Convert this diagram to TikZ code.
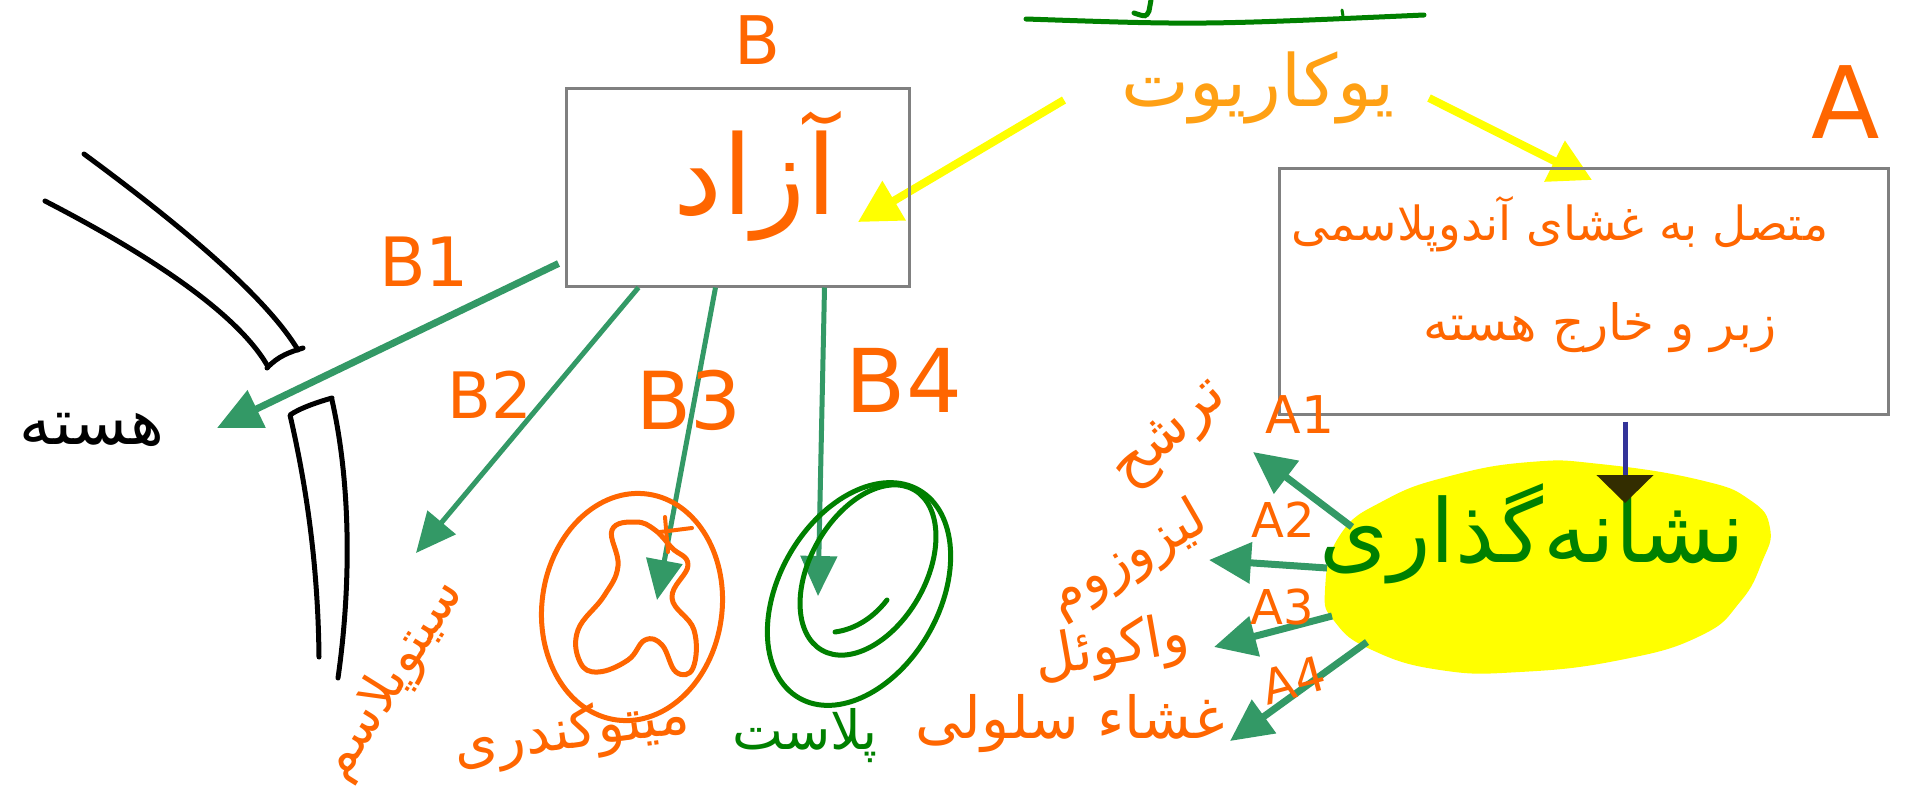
\documentclass[tikz,border=0pt]{standalone}
\usepackage{fontspec}
\setmainfont{DejaVu Sans}
\newfontfamily\arabicfont[Script=Arabic]{DejaVu Sans}
\TeXXeTstate=1
\usetikzlibrary{arrows.meta,shapes.geometric}
\definecolor{orng}{RGB}{255,102,0}
\definecolor{lorng}{RGB}{255,160,20}
\definecolor{agreen}{RGB}{51,153,102}
\definecolor{dgreen}{RGB}{0,128,0}
\definecolor{boxgray}{RGB}{128,128,128}
\definecolor{hlyellow}{RGB}{255,255,0}
\definecolor{bluel}{RGB}{51,51,153}
\definecolor{headdark}{RGB}{51,45,0}
\newcommand\myfs[1]{\fontsize{#1}{#1}\selectfont}
\begin{document}
\begin{tikzpicture}[x=1pt,y=-1pt,
  box/.style={draw=boxgray, line width=3pt, inner sep=0pt},
  lbl/.style={text=orng, inner sep=0pt},
  ar/.style={text=orng, inner sep=0pt},
  gar/.style={draw=agreen, line width=5pt, -{Triangle[length=40pt,width=36pt]}},
  garA/.style={draw=agreen, line width=7pt, -{Triangle[length=42pt,width=40pt]}},
  yar/.style={draw=hlyellow, line width=8pt, -{Triangle[length=42pt,width=44pt]}},
  env/.style={draw=black, line width=5pt, line cap=round, line join=round},
  organ/.style={line width=5pt, inner sep=0pt, ellipse}
]
\fill[white] (0,0) rectangle (1910,795);
\useasboundingbox (0,0) rectangle (1910,795);

% top underline and cut-off strokes
\draw[dgreen, line width=5pt, line cap=round] (1026,19) .. controls (1200,25) .. (1424,15);
\draw[dgreen, line width=5pt, line cap=round] (1151,0) -- (1149,11) .. controls (1146,17) .. (1134,13);
\draw[dgreen, line width=3pt, line cap=round] (1342,10) -- (1343,16);

% eukaryote
\node[ar, text=lorng, font={\arabicfont\myfs{72}}] (euk) at (1258,88) {\beginR یوکاریوت\endR};
\coordinate (ys1) at (1064,100);
\coordinate (yt1) at (858,222);
\coordinate (ys2) at (1429,98);
\coordinate (yt2) at (1592,180);
\draw[yar] (ys1) -- (yt1);
\draw[yar] (ys2) -- (yt2);

% box B
\node[lbl, font=\myfs{67}] (Blbl) at (757,40) {B};
\node[box, minimum width=343pt, minimum height=198pt] (boxB) at (737.5,187) {};
\node[ar, font={\arabicfont\myfs{110}}] (azad) at (755,176) {\beginR آزاد\endR};

% box A
\node[lbl, font=\myfs{100}] (Albl) at (1846,102) {A};
\node[box, minimum width=609pt, minimum height=246pt] (boxA) at (1583.5,291) {};
\node[ar, font={\arabicfont\myfs{47}}] (atxt1) at (1560,224) {\beginR متصل به غشای آندوپلاسمی\endR};
\node[ar, font={\arabicfont\myfs{50}}] (atxt2) at (1600,328) {\beginR زبر و خارج هسته\endR};

% nucleus envelope
\draw[env] (84,154) .. controls (160,210) and (262,290) .. (298,350);
\draw[env] (45,201) .. controls (140,250) and (235,310) .. (267,365);
\draw[env] (267,368) .. controls (278,356) and (290,352) .. (303,348);
\draw[env] (332,398) .. controls (318,402) and (300,408) .. (290,415) .. controls (305,480) and (318,560) .. (319,657);
\draw[env] (332,400) .. controls (350,480) and (352,580) .. (338,678);
\node[ar, text=black, font={\arabicfont\myfs{64}}] (hasteh) at (92,430) {\beginR هسته\endR};

% B arrows
\coordinate (b1t) at (217,428);
\coordinate (b2t) at (416,553);
\coordinate (b3t) at (657,600);
\coordinate (b4t) at (818,596);
\draw[gar, line width=7pt, -{Triangle[length=44pt,width=40pt]}] ([xshift=-6pt,yshift=24pt]boxB.south west) -- (b1t);
\draw[gar] ([xshift=74pt]boxB.south west) -- (b2t);
\draw[gar] ([xshift=151pt]boxB.south west) -- (b3t);
\draw[gar] ([xshift=260pt]boxB.south west) -- (b4t);
\node[lbl, font=\myfs{68}] (B1lbl) at (424,262) {B1};
\node[lbl, font=\myfs{64}] (B2lbl) at (490,395) {B2};
\node[lbl, font=\myfs{80}] (B3lbl) at (689,400) {B3};
\node[lbl, font=\myfs{88}] (B4lbl) at (904,380) {B4};

% cytoplasm
\node[ar, rotate=58, font={\arabicfont\myfs{52}}] (cyto) at (392,680) {\beginR سیتوپلاسم\endR};

% mitochondrion
\node[organ, draw=orng, minimum width=180pt, minimum height=228pt, rotate=-8] (mito) at (632,607) {};
\draw[orng, line width=5pt, line join=round] plot[smooth cycle, tension=0.7] coordinates {(612,530) (636,522) (655,530) (672,548) (688,565) (672,598) (694,630) (693,668) (676,672) (662,645) (645,640) (628,660) (598,672) (580,662) (578,630) (604,596) (618,566)};
\draw[orng, line width=4pt, line cap=round] (665,517) -- (668,552);
\draw[orng, line width=4pt, line cap=round] (660,532) -- (692,528);
\node[ar, rotate=8, font={\arabicfont\myfs{56}}] (mitolbl) at (572,734) {\beginR میتوکندری\endR};

% plastid
\node[organ, draw=dgreen, minimum width=240pt, minimum height=160pt, rotate=60] (plast) at (859,594) {};
\node[organ, draw=dgreen, minimum width=185pt, minimum height=115pt, rotate=60] (plastin) at (868,570) {};
\draw[dgreen, line width=5pt, line cap=round] (887,600) .. controls (870,622) and (850,630) .. (835,632);
\node[ar, text=dgreen, font={\arabicfont\myfs{54}}] (plastlbl) at (805,736) {\beginR پلاست\endR};

% tagging blob
\fill[hlyellow] plot[smooth cycle, tension=0.8] coordinates {(1325,590) (1340,535) (1385,500) (1450,476) (1530,462) (1600,464) (1700,480) (1750,500) (1770,528) (1762,562) (1740,602) (1700,636) (1620,660) (1520,672) (1440,670) (1372,650) (1335,622)};
\coordinate (tagc) at (1545,570);
\node[ar, text=dgreen, font={\arabicfont\myfs{88}}] (tag) at (1532,534) {\beginR نشانه‌گذاری\endR};

% blue arrow
\coordinate (bt) at (1625,503);
\draw[draw=bluel, line width=5pt, -{Triangle[length=28pt,width=56pt,color=headdark]}] ([xshift=41.5pt,yshift=-6pt]boxA.south) -- (bt);

% A arrows
\coordinate (a1s) at (1352,527); \coordinate (a1t) at (1253,452);
\coordinate (a2s) at (1327,568); \coordinate (a2t) at (1209,560);
\coordinate (a3s) at (1332,616); \coordinate (a3t) at (1214,647);
\coordinate (a4s) at (1367,642); \coordinate (a4t) at (1230,741);
\draw[garA] (a1s) -- (a1t);
\draw[garA] (a2s) -- (a2t);
\draw[garA] (a3s) -- (a3t);
\draw[garA] (a4s) -- (a4t);
\node[lbl, font=\myfs{52}] (A1lbl) at (1300,415) {A1};
\node[lbl, font=\myfs{48}] (A2lbl) at (1283,520) {A2};
\node[lbl, font=\myfs{48}] (A3lbl) at (1282,607) {A3};
\node[lbl, rotate=15, font=\myfs{48}] (A4lbl) at (1294,680) {A4};

\node[ar, rotate=42, font={\arabicfont\myfs{58}}] (secr) at (1172,436) {\beginR ترشح\endR};
\node[ar, rotate=30, font={\arabicfont\myfs{54}}] (lyso) at (1128,560) {\beginR لیزوزوم\endR};
\node[ar, rotate=10, font={\arabicfont\myfs{56}}] (vac) at (1112,650) {\beginR واکوئل\endR};
\node[ar, font={\arabicfont\myfs{58}}] (memb) at (1070,724) {\beginR غشاء سلولی\endR};
\end{tikzpicture}
\end{document}
